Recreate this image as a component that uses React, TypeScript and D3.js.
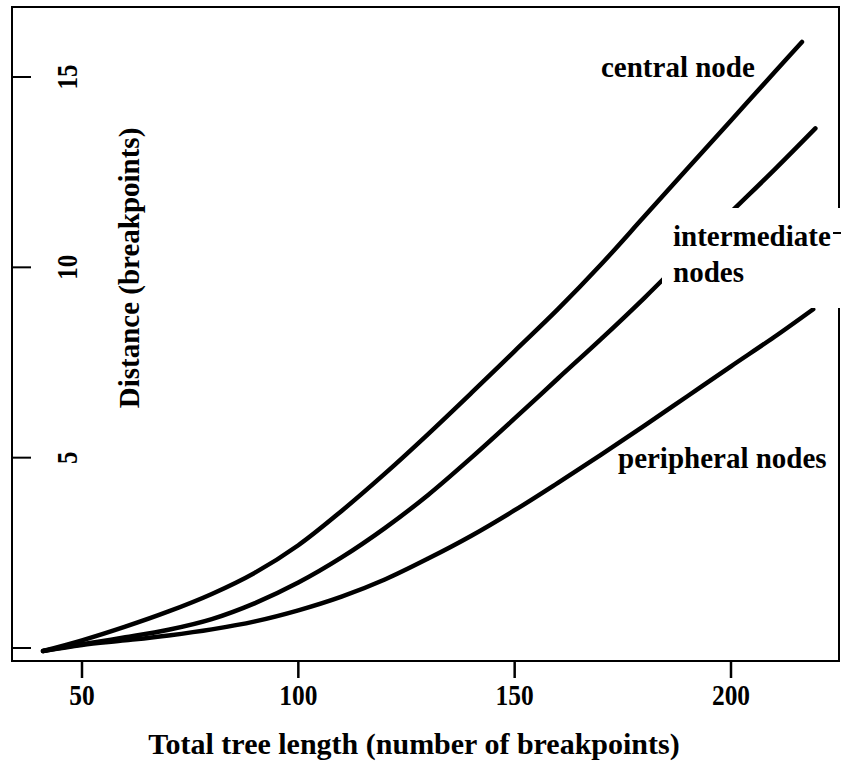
import React from "react";
import * as d3 from "d3";

const xTicks = [50, 100, 150, 200];
const yTicks = [0, 5, 10, 15];
const yTickLabels = ["", "5", "10", "15"];

const treeLength = [41, 50, 60, 70, 80, 90, 100, 110, 120, 130, 140, 150, 160, 170, 180, 190, 200, 210];
const centralNode = [-0.08, 0.2, 0.56, 0.96, 1.42, 1.98, 2.7, 3.6, 4.58, 5.62, 6.7, 7.8, 8.9, 10.08, 11.34, 12.6, 13.86, 15.12];
const centralEnd = [216.4, 15.92];
const intermediateNodes = [-0.08, 0.1, 0.28, 0.48, 0.76, 1.18, 1.72, 2.38, 3.15, 4.02, 5.0, 6.03, 7.08, 8.12, 9.2, 10.33, 11.45, 12.56];
const intermediateEnd = [219.5, 13.65];
const peripheralNodes = [-0.08, 0.08, 0.2, 0.33, 0.49, 0.7, 0.99, 1.35, 1.8, 2.35, 2.95, 3.62, 4.34, 5.08, 5.84, 6.62, 7.4, 8.17];
const peripheralEnd = [219, 8.9];

const seriesLabels = ["central node", "intermediate", "nodes", "peripheral nodes"];

const font = "'Liberation Serif', 'DejaVu Serif', serif";

export default function App() {
  const W = 841, H = 766;
  const x = d3.scaleLinear().domain([50, 200]).range([82, 731]);
  const y = d3.scaleLinear().domain([0, 15]).range([648, 77]);
  const line = d3.line<[number, number]>().x(d => x(d[0])).y(d => y(d[1])).curve(d3.curveCatmullRom);

  const build = (vals: number[], end: number[]): [number, number][] => {
    const pts: [number, number][] = treeLength.map((t, i) => [t, vals[i]]);
    pts.push([end[0], end[1]]);
    return pts;
  };
  const series = [
    build(centralNode, centralEnd),
    build(intermediateNodes, intermediateEnd),
    build(peripheralNodes, peripheralEnd),
  ];

  const left = 12, top = 7, right = 839, bottom = 661;

  return (
    <div style={{ position: "absolute", left: 0, top: 0 }}>
      <svg width={W} height={H} style={{ display: "block", background: "#fff" }}>
        <rect x={0} y={0} width={W} height={H} fill="#fff" />
        <rect x={left} y={top} width={right - left} height={bottom - top} fill="none" stroke="#000" strokeWidth={2} />
        {yTicks.map((t, i) => (
          <g key={"yt" + i}>
            <line x1={left} x2={left + 19} y1={y(t)} y2={y(t)} stroke="#000" strokeWidth={2} />
            {yTickLabels[i] && (
              <text
                transform={`translate(77, ${y(t)}) rotate(-90)`}
                textAnchor="middle"
                fontFamily={font}
                fontWeight="bold"
                fontSize={30}
                textLength={yTickLabels[i].length * 12.5}
                lengthAdjust="spacingAndGlyphs"
              >
                {yTickLabels[i]}
              </text>
            )}
          </g>
        ))}
        {xTicks.map((t, i) => (
          <g key={"xt" + i}>
            <line x1={x(t)} x2={x(t)} y1={bottom} y2={bottom + 17} stroke="#000" strokeWidth={2.5} />
            <text
              x={x(t)}
              y={705}
              textAnchor="middle"
              fontFamily={font}
              fontWeight="bold"
              fontSize={30}
              textLength={String(t).length * 12.7}
              lengthAdjust="spacingAndGlyphs"
            >
              {t}
            </text>
          </g>
        ))}
        {series.map((s, i) => (
          <path key={"s" + i} d={line(s) || ""} fill="none" stroke="#000" strokeWidth={4.5} strokeLinecap="round" />
        ))}
        <rect x={662} y={208} width={W - 662} height={100} fill="#fff" />
        <line x1={833} x2={841} y1={233} y2={233} stroke="#000" strokeWidth={2} />
        <text x={601} y={77} fontFamily={font} fontWeight="bold" fontSize={29}>{seriesLabels[0]}</text>
        <text x={673} y={246} fontFamily={font} fontWeight="bold" fontSize={29}>{seriesLabels[1]}</text>
        <text x={673} y={282} fontFamily={font} fontWeight="bold" fontSize={29}>{seriesLabels[2]}</text>
        <text x={618} y={468} fontFamily={font} fontWeight="bold" fontSize={29}>{seriesLabels[3]}</text>
        <text
          transform={`translate(139, 268) rotate(-90)`}
          textAnchor="middle"
          fontFamily={font}
          fontWeight="bold"
          fontSize={29}
        >
          Distance (breakpoints)
        </text>
        <text x={414} y={754} textAnchor="middle" fontFamily={font} fontWeight="bold" fontSize={30}>
          Total tree length (number of breakpoints)
        </text>
      </svg>
    </div>
  );
}
